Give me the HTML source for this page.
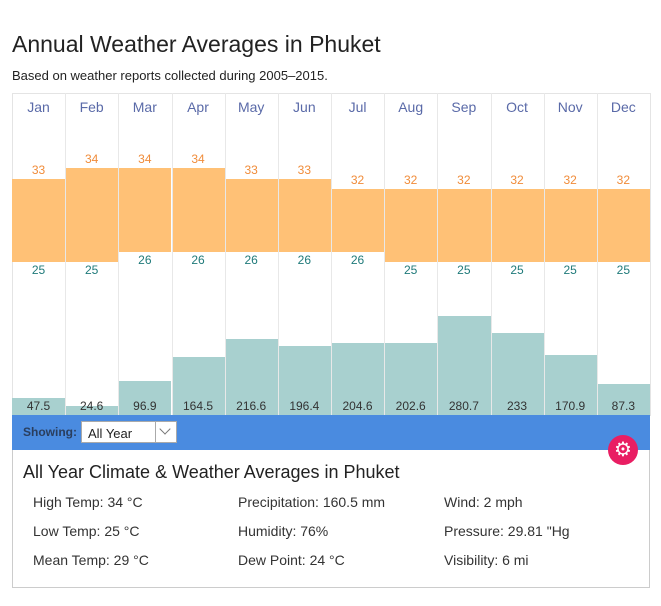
<!DOCTYPE html>
<html><head><meta charset="utf-8"><style>
body{margin:0;width:661px;height:606px;background:#fff;font-family:"Liberation Sans",sans-serif;position:relative;overflow:hidden}
.a{position:absolute}
h1{position:absolute;left:12px;top:31px;margin:0;font-size:23px;font-weight:normal;color:#222}
.sub{left:12px;top:68px;font-size:13px;color:#222}
.col{position:absolute;top:93px;height:322px;border-left:1px solid #e8e8e8}
.m{position:absolute;width:53px;text-align:center;font-size:14px;color:#5a6aa8;top:99px}
.hb{position:absolute;background:#ffc176}
.hl{position:absolute;width:53px;text-align:center;font-size:12px;color:#f08c3a}
.ll{position:absolute;width:53px;text-align:center;font-size:12px;color:#1f7a7a}
.pb{position:absolute;background:#a8d0cf}
.pl{position:absolute;width:53px;text-align:center;font-size:12px;color:#333;top:399px}
</style></head><body>
<h1>Annual Weather Averages in Phuket</h1>
<div class="a sub">Based on weather reports collected during 2005–2015.</div>
<div class="a" style="left:12px;top:93px;width:637px;height:322px;border:1px solid #e4e4e4;border-bottom:none"></div>
<div id="c"></div>
<div class="a" style="left:12px;top:415px;width:638px;height:35px;background:#4a8be0"></div>
<div class="a" style="left:23px;top:425px;font-size:12px;font-weight:bold;color:#2a3e5e">Showing:</div>
<div class="a" style="left:81px;top:421px;width:96px;height:22px;background:#fff;border:1px solid #aaa;box-sizing:border-box"></div>
<div class="a" style="left:88px;top:426px;font-size:13px;color:#222">All Year</div>
<div class="a" style="left:155px;top:422px;width:1px;height:20px;background:#aaa"></div>
<div class="a" style="left:161px;top:425px;width:7px;height:7px;border-right:1.5px solid #777;border-bottom:1.5px solid #777;transform:rotate(45deg)"></div>
<div class="a" style="left:12px;top:450px;width:636px;height:137px;border:1px solid #ccc;border-top:none"></div>
<div class="a" style="left:608px;top:435px;width:30px;height:30px;border-radius:50%;background:#e91e63"></div>
<div class="a" style="left:608px;top:435px;width:30px;height:30px;text-align:center;line-height:30px;color:#fff;font-size:20px">⚙</div>
<div class="a" style="left:23px;top:462px;font-size:18px;color:#222">All Year Climate &amp; Weather Averages in Phuket</div>
<div class="a" style="left:33px;top:488px;font-size:14px;color:#333;line-height:29px">High Temp: 34 °C<br>Low Temp: 25 °C<br>Mean Temp: 29 °C</div>
<div class="a" style="left:238px;top:488px;font-size:14px;color:#333;line-height:29px">Precipitation: 160.5 mm<br>Humidity: 76%<br>Dew Point: 24 °C</div>
<div class="a" style="left:444px;top:488px;font-size:14px;color:#333;line-height:29px">Wind: 2 mph<br>Pressure: 29.81 "Hg<br>Visibility: 6 mi</div>
<script>
(function(){
var M=["Jan","Feb","Mar","Apr","May","Jun","Jul","Aug","Sep","Oct","Nov","Dec"];
var H=[33,34,34,34,33,33,32,32,32,32,32,32],L=[25,25,26,26,26,26,26,25,25,25,25,25];
var P=[47.5,24.6,96.9,164.5,216.6,196.4,204.6,202.6,280.7,233,170.9,87.3];
var s="";
for(var i=0;i<12;i++){
 var x=12+i*53.17, w=53.17;
 var tp=178.5-(H[i]-33)*10.5, bt=262-(L[i]-25)*10.5;
 var pt=415-P[i]*0.353;
 if(i>0)s+='<div class="col" style="left:'+x+'px"></div>';
 s+='<div class="hb" style="left:'+(x+(i>0?1:0))+'px;top:'+tp+'px;width:'+(w-(i>0?1:0))+'px;height:'+(bt-tp)+'px"></div>';
 s+='<div class="pb" style="left:'+(x+(i>0?1:0))+'px;top:'+pt+'px;width:'+(w-(i>0?1:0))+'px;height:'+(415-pt)+'px"></div>';
 s+='<div class="m" style="left:'+x+'px">'+M[i]+'</div>';
 s+='<div class="hl" style="left:'+x+'px;top:'+(tp-16)+'px">'+H[i]+'</div>';
 s+='<div class="ll" style="left:'+x+'px;top:'+(bt+1)+'px">'+L[i]+'</div>';
 s+='<div class="pl" style="left:'+x+'px">'+P[i]+'</div>';
}
document.getElementById("c").innerHTML=s;
})();
</script>
</body></html>
